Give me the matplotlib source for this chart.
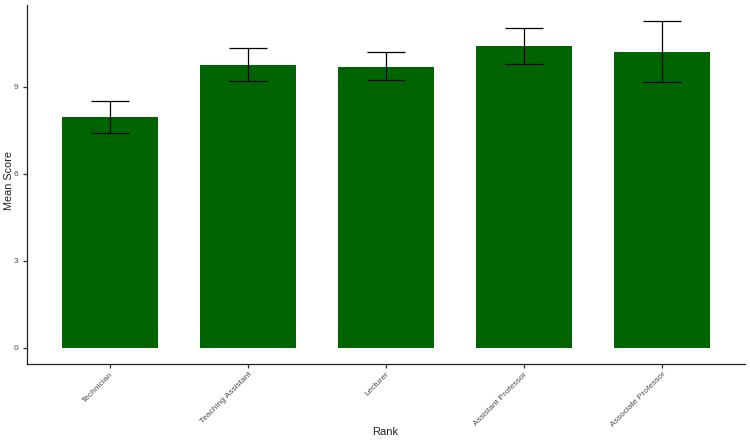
import numpy as np
import matplotlib
matplotlib.use('Agg')
import matplotlib.pyplot as plt

ranks = ['Technician', 'Teaching Assistant', 'Lecturer', 'Assistant Professor', 'Associate Professor']
means = [7.96, 9.75, 9.68, 10.40, 10.21]
err_lo = [7.39, 9.20, 9.23, 9.78, 9.17]
err_hi = [8.52, 10.33, 10.20, 11.04, 11.26]
yticks = [0, 3, 6, 9]

plt.rcParams['font.family'] = ['Liberation Sans', 'DejaVu Sans']

W, H = 750, 443
fig = plt.figure(figsize=(W / 100, H / 100), dpi=100)
ax = fig.add_axes([27 / W, 1 - 364 / H, (745 - 27) / W, (364 - 5) / H])

x = np.arange(1, len(ranks) + 1)
means = np.array(means)
lo = means - np.array(err_lo)
hi = np.array(err_hi) - means

ax.bar(x, means, width=0.7, color='#006400', zorder=1)
ax.errorbar(x, means, yerr=[lo, hi], fmt='none', ecolor='black', elinewidth=0.9,
            capsize=13.8, capthick=0.9, zorder=2)

ax.set_xlim(0.4, 5.6)
ax.set_ylim(-0.563, 11.82)
ax.set_yticks(yticks)
ax.set_xticks(x)
ax.set_xticklabels(ranks, rotation=45, ha='right', va='top', rotation_mode='anchor')

for l in ['top', 'right']: ax.spines[l].set_visible(False)
for l in ['bottom', 'left']:
  ax.spines[l].set_linewidth(0.9)
  ax.spines[l].set_color('#222222')
ax.tick_params(axis='both', colors='#333333', labelcolor='#4d4d4d', labelsize=6, length=3, width=0.9)
ax.tick_params(axis='x', pad=2)

# axis titles placed by hand, like the reference
fig.text(385 / W, 1 - 432 / H, 'Rank', fontsize=8, color='#222222', ha='center', va='center')
fig.text(9 / W, 1 - 181 / H, 'Mean Score', fontsize=7.8, color='#222222', ha='center', va='center',
         rotation=90)

fig.savefig('out.png', dpi=100)
